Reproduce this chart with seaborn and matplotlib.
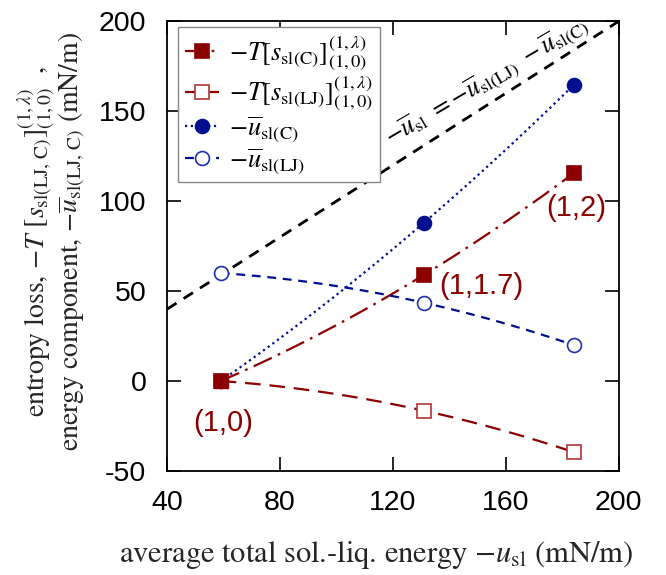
import numpy as np
import pandas as pd
import matplotlib
matplotlib.use("Agg")
import matplotlib.pyplot as plt
import seaborn as sns
from matplotlib.lines import Line2D

# values
energy = [59, 131, 184]          # average total sol.-liq. energy -u_sl (mN/m)
ts_c = [0, 59, 115.5]            # -T[s_sl(C)]
ts_lj = [0, -16.5, -39.5]        # -T[s_sl(LJ)]
u_c = [0, 88, 164.5]             # -u_sl(C)
u_lj = [60, 43.5, 20]            # -u_sl(LJ)
point_labels = ["(1,0)", "(1,1.7)", "(1,2)"]

RED = "#8b0000"
RED_OPEN = "#b03535"
BLUE = "#00108f"
BLUE_OPEN = "#2030b0"

sns.set_theme(style="ticks")
plt.rcParams["font.family"] = ["Liberation Sans", "DejaVu Sans"]
plt.rcParams["mathtext.fontset"] = "stix"
plt.rcParams["axes.unicode_minus"] = False
plt.rcParams["text.color"] = "black"
plt.rcParams["xtick.labelcolor"] = "black"
plt.rcParams["ytick.labelcolor"] = "black"
plt.rcParams["xtick.direction"] = "in"
plt.rcParams["ytick.direction"] = "in"
plt.rcParams["xtick.top"] = True
plt.rcParams["ytick.right"] = True

SERIF = ["STIXGeneral", "Liberation Serif"]


def smooth(x, y, n=200):
    # quadratic through the three points, like the smoothed curves in the figure
    coef = np.polyfit(x, y, 2)
    xs = np.linspace(min(x), max(x), n)
    return pd.DataFrame({"x": xs, "y": np.polyval(coef, xs)})


fig = plt.figure(figsize=(6.66, 5.75), dpi=100)
ax = fig.add_axes([0.251, 0.181, 0.678, 0.782])

# reference line -u_sl = -u_LJ - u_C
ax.axline((40, 40), slope=1, color="black", lw=2, ls=(0, (4, 3)), zorder=1)

series = [
    (ts_c, RED, (0, (9, 3, 1.2, 3)), "s", RED, RED),
    (ts_lj, RED, (0, (7, 4)), "s", "white", RED_OPEN),
    (u_c, BLUE, (0, (1, 1.6)), "o", BLUE, BLUE),
    (u_lj, BLUE, (0, (4, 3)), "o", "white", BLUE_OPEN),
]

handles = []
for vals, col, ls, mk, fc, ec in series:
    curve = smooth(energy, vals)
    sns.lineplot(data=curve, x="x", y="y", ax=ax, color=col, lw=1.6,
                 linestyle=ls, legend=False, zorder=2, sort=False)
    ms = 10 if mk == "o" else 9.5
    ax.plot(energy, vals, ls="none", marker=mk, ms=ms,
            mfc=fc, mec=ec, mew=1.2, zorder=3)
    handles.append(Line2D([0], [0], color=col, lw=1.6, ls=ls, marker=mk,
                          ms=ms, mfc=fc, mec=ec, mew=1.2))

# redraw the (1,0) filled square on top
ax.plot(energy[:1], ts_c[:1], ls="none", marker="s", ms=9.5, color=RED, zorder=4)

labels = [
    r"$-T[s_{\rm sl(C)}]^{(1,\lambda)}_{(1,0)}$",
    r"$-T[s_{\rm sl(LJ)}]^{(1,\lambda)}_{(1,0)}$",
    r"$-\overline{u}_{\rm sl(C)}$",
    r"$-\overline{u}_{\rm sl(LJ)}$",
]
leg = ax.legend(handles, labels, loc="upper left", bbox_to_anchor=(0.024, 0.988),
                borderaxespad=0, fontsize=19, handlelength=1.3, handletextpad=0.4,
                labelspacing=0.05, borderpad=0.25, fancybox=False,
                framealpha=1, edgecolor="#888888")
leg.get_frame().set_linewidth(1.0)

# state labels
offsets = [(2, -30), (11, -8), (2, -25)]
for xv, yv, txt, (dx, dy) in zip(energy, ts_c, point_labels, offsets):
    ax.annotate(txt, (xv, yv), xytext=(dx, dy), textcoords="offset points",
                ha="left" if dx > 5 else "center", va="center",
                fontsize=21, color=RED)

ax.text(153.5, 166.5,
        r"$-\overline{u}_{\rm sl}\ =-\overline{u}_{\rm sl(LJ)}\ -\overline{u}_{\rm sl(C)}$",
        rotation=30.5, rotation_mode="anchor", ha="center", va="center",
        fontsize=18.5, family=SERIF, zorder=6)

ax.set_xlim(40, 200)
ax.set_ylim(-50, 200)
ax.set_xticks([40, 80, 120, 160, 200])
ax.set_yticks([-50, 0, 50, 100, 150, 200])
ax.tick_params(labelsize=20.5, length=10, width=1.2, color="black")
ax.tick_params(axis="x", pad=14)
ax.tick_params(axis="y", pad=15)
for sp in ax.spines.values():
    sp.set_color("black")
    sp.set_linewidth(1.3)

ax.set_xlabel(r"average total sol.-liq. energy $-u_{\rm sl}$ (mN/m)",
              fontsize=22, family=SERIF)
ax.xaxis.set_label_coords(0.462, -0.152)
ax.set_ylabel("entropy loss, " + r"$-T\ [s_{\rm sl(LJ,\, C)}]^{(1,\lambda)}_{(1,0)}$" + "  ,\n"
              + "energy component, " + r"$-\overline{u}_{\rm sl(LJ,\, C)}$" + " (mN/m)",
              fontsize=20, family=SERIF, linespacing=0.95)
ax.yaxis.set_label_coords(-0.175, 0.51)

fig.savefig("out.png", dpi=100)
